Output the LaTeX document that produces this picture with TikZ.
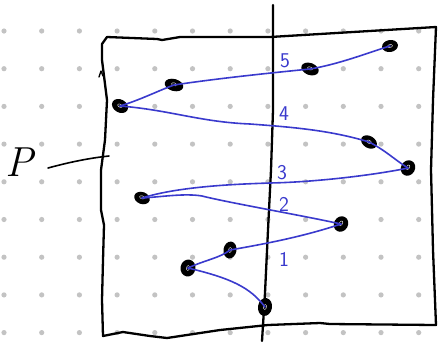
\documentclass[tikz,border=0pt]{standalone}
\usetikzlibrary{shapes.geometric}
\definecolor{penblue}{RGB}{58,58,205}
\definecolor{dotgray}{RGB}{195,195,195}
\tikzset{
  pen/.style={line width=2.3pt, line cap=round, line join=round, black},
  bluepen/.style={line width=1.6pt, line cap=round, line join=round, penblue},
  blob/.style={ellipse, fill=black, inner sep=0pt, minimum width=16pt, minimum height=12pt,
    path picture={\draw[white, line width=0.4pt] (path picture bounding box.center) ellipse (2.5pt and 1.5pt);}},
  numlabel/.style={text=penblue, font=\sffamily\fontsize{21}{21}\selectfont, inner sep=0pt},
  griddot/.style={fill=dotgray}
}
\begin{document}
\begin{tikzpicture}[x=1pt,y=-1pt]
\useasboundingbox (0,0) rectangle (438,341);
\fill[white] (0,0) rectangle (438,341);
% dot grid
\foreach \i in {0,...,11}{
  \foreach \j in {0,...,8}{
    \fill[griddot] ({4+37.7*\i},{31+37.7*\j}) circle (2.6pt);
  }
}
% box
\draw[pen] (102,44) -- (107,37) -- (157,39) -- (162,40) -- (180,37) -- (270,37) -- (436,27)
  -- (433,100) -- (431,170) -- (433,250) -- (436,325)
  -- (330,324) -- (320,323) -- (268,325) -- (220,330) -- (167,338) -- (150,336) -- (123,332) -- (103,336)
  -- (102,300) -- (103,260) -- (104,225) -- (101,210) -- (101,170) -- (105,140) -- (107,100) -- (102,60) -- cycle;
\draw[pen, line width=1.3pt] (99,77) -- (101,71) -- (103,76);
% vertical line
\draw[pen] (273,5) -- (273,110) -- (271,170) -- (268,230) -- (265,293) -- (262,341);
% P label
\node[inner sep=0pt, font=\fontsize{42}{42}\selectfont\itshape] (P) at (19,162) {P};
\coordinate (Pend) at (109,156);
\draw[pen, line width=1.6pt] (48,168) .. controls (70,162) and (90,158) .. (Pend);
% blobs
\node[blob, rotate=10] (p1) at (390,46) {};
\node[blob, rotate=-20, minimum width=18pt] (p2) at (310,69) {};
\node[blob, rotate=-15, minimum width=19pt] (p3) at (174,85) {};
\node[blob, rotate=-30, minimum width=17pt, minimum height=13pt] (p4) at (120,106) {};
\node[blob, rotate=-30, minimum width=17pt] (p5) at (369,142) {};
\node[blob, rotate=60, minimum width=16pt, minimum height=14pt] (p6) at (408,168) {};
\node[blob, rotate=-20] (p7) at (142,198) {};
\node[blob, rotate=60, minimum width=16pt, minimum height=14pt] (p8) at (341,224) {};
\node[blob, rotate=80, minimum width=17pt, minimum height=13pt] (p9) at (230,250) {};
\node[blob, rotate=80, minimum width=17pt, minimum height=15pt] (p10) at (188,268) {};
\node[blob, rotate=80, minimum width=18pt, minimum height=14pt] (p11) at (265,307) {};
% blue path
\draw[bluepen] (p11.center) .. controls (250,287) and (230,278) .. (p10.center);
\draw[bluepen] (p10.center) .. controls (205,260) and (220,258) .. (p9.center);
\draw[bluepen] (p9.center) .. controls (270,243) and (305,236) .. (p8.center);
\draw[bluepen] (p8.center) .. controls (300,215) and (230,203) .. (202,196) .. controls (185,193) and (160,197) .. (p7.center);
\draw[bluepen] (p7.center) .. controls (180,186) and (240,184) .. (270,183) .. controls (320,182) and (380,174) .. (p6.center);
\draw[bluepen] (p6.center) .. controls (395,160) and (385,150) .. (p5.center);
\draw[bluepen] (p5.center) .. controls (330,130) and (290,127) .. (250,124) .. controls (200,122) and (170,110) .. (p4.center);
\draw[bluepen] (p4.center) .. controls (140,100) and (160,90) .. (p3.center);
\draw[bluepen] (p3.center) .. controls (220,78) and (280,72) .. (p2.center);
\draw[bluepen] (p2.center) .. controls (340,64) and (370,52) .. (p1.center);
% number labels
\node[numlabel] (n1) at (284,259) {1};
\node[numlabel] (n2) at (284,204) {2};
\node[numlabel] (n3) at (282,173) {3};
\node[numlabel] (n4) at (284,114) {4};
\node[numlabel] (n5) at (285,61) {5};
\end{tikzpicture}
\end{document}
